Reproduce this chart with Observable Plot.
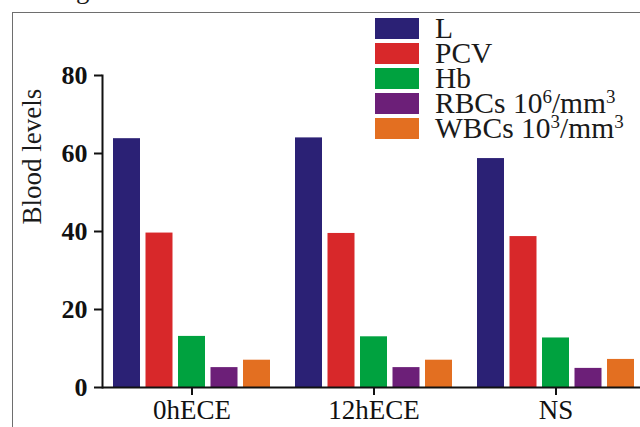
<!DOCTYPE html>
<html><head><meta charset="utf-8">
<script src="https://cdn.jsdelivr.net/npm/d3@7"></script>
<script src="https://cdn.jsdelivr.net/npm/@observablehq/plot@0.6"></script>
<style>
body{margin:0;background:#fff;}
#wrap{position:relative;width:640px;height:427px;overflow:hidden;font-family:"Liberation Serif","Times New Roman",serif;color:#1a1a1a;}
#wrap svg{position:absolute;left:0;top:0;}
.border{position:absolute;left:12px;top:12px;width:640px;height:420px;border-top:1.5px solid #6e6e6e;border-left:1.5px solid #6e6e6e;}
.frag{position:absolute;left:76px;top:-24px;font-size:27px;line-height:27px;}
.leg{position:absolute;left:375px;height:22px;display:flex;align-items:center;}
.sw{width:44px;height:21px;margin-right:16px;}
.lt{font-size:29.5px;line-height:22px;white-space:nowrap;}
.lt sup{font-size:19px;vertical-align:10px;line-height:0;}
</style></head><body><div id="wrap"></div>
<script>
const groups = ["0hECE", "12hECE", "NS"];
const seriesNames = ["L", "PCV", "Hb", "RBCs", "WBCs"];
const seriesLabels = ["L", "PCV", "Hb", "RBCs 10<sup>6</sup>/mm<sup>3</sup>", "WBCs 10<sup>3</sup>/mm<sup>3</sup>"];
const valuesL = [63.8, 64.0, 58.7];
const valuesPCV = [39.6, 39.5, 38.7];
const valuesHb = [13.1, 13.0, 12.7];
const valuesRBC = [5.1, 5.1, 4.9];
const valuesWBC = [7.0, 7.0, 7.2];
const colors = ["#2b2175", "#d8282a", "#00a23f", "#6c1f78", "#e36f21"];
const yTicks = [0, 20, 40, 60, 80];

const seriesValues = [valuesL, valuesPCV, valuesHb, valuesRBC, valuesWBC];
const barW = 27, barStep = 32.5, groupW = 157;

const barMarks = seriesNames.map((name, i) =>
  Plot.barY(groups.map((g, j) => ({group: g, series: name, value: seriesValues[i][j]})), {
    x: "group", y: "value", fill: "series",
    insetLeft: i * barStep, insetRight: groupW - i * barStep - barW
  })
);

const chart = Plot.plot({
  width: 640, height: 427,
  marginLeft: 102, marginRight: 0, marginTop: 75, marginBottom: 40,
  style: {fontFamily: "'Liberation Serif', 'Times New Roman', serif", color: "#111", background: "transparent"},
  x: {domain: groups, range: [112, 634], paddingInner: 0.14, paddingOuter: 0, axis: null},
  y: {domain: [0, 80], axis: null},
  color: {domain: seriesNames, range: colors},
  marks: [
    ...barMarks,
    Plot.axisY({ticks: yTicks, tickSize: 8, tickPadding: 7, strokeWidth: 2, fontSize: 26, fontWeight: "bold", label: null}),
    Plot.axisX({tickSize: 8, tickPadding: 4, strokeWidth: 2, fontSize: 27, label: null}),
    Plot.ruleY([0], {strokeWidth: 2}),
    Plot.frame({anchor: "left", strokeWidth: 2}),
    Plot.text(["Blood levels"], {frameAnchor: "left", rotate: -90, dx: -70, dy: -7, fontSize: 27, fill: "#1a1a1a"})
  ]
});

const wrap = document.getElementById("wrap");
wrap.appendChild(chart);
const border = document.createElement("div"); border.className = "border"; wrap.appendChild(border);
const frag = document.createElement("div"); frag.className = "frag"; frag.textContent = "g"; wrap.appendChild(frag);
const tops = [17, 42, 67, 92, 117];
seriesNames.forEach((name, i) => {
  const row = document.createElement("div");
  row.className = "leg";
  row.style.top = tops[i] + "px";
  row.innerHTML = `<div class="sw" style="background:${colors[i]}"></div><div class="lt">${seriesLabels[i]}</div>`;
  wrap.appendChild(row);
});
</script></body></html>
